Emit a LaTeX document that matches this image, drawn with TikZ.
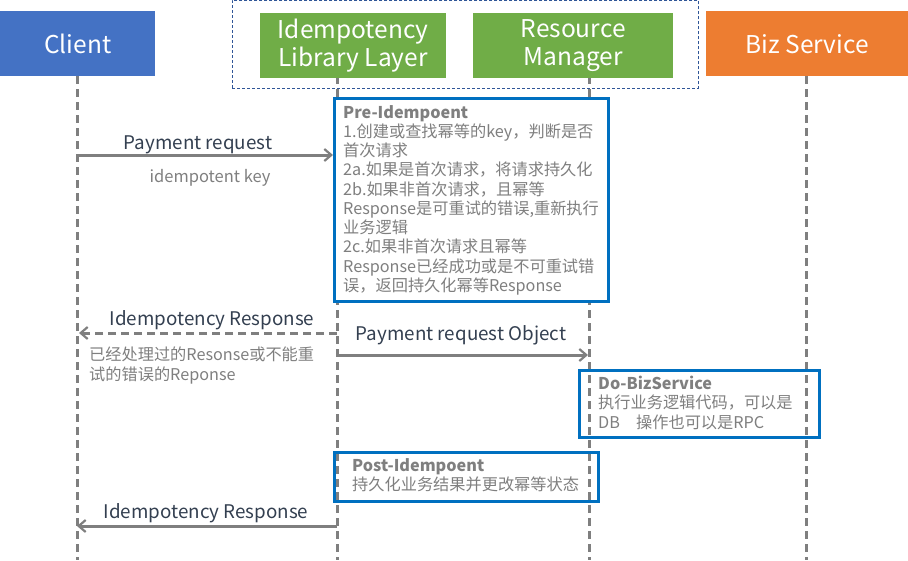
\documentclass[tikz,border=0pt]{standalone}
\usepackage{fontspec}
\setmainfont{Noto Sans CJK SC}
\usetikzlibrary{arrows.meta}
\definecolor{hblue}{HTML}{4472C4}
\definecolor{hgreen}{HTML}{70AD47}
\definecolor{horange}{HTML}{ED7D31}
\definecolor{bblue}{HTML}{0070C0}
\definecolor{lgray}{HTML}{7F7F7F}
\definecolor{dtext}{HTML}{333F50}
\definecolor{dbox}{HTML}{2F5597}
\begin{document}
\begin{tikzpicture}[x=1pt,y=-1pt,
  head/.style={fill=#1,draw=none,text=white,align=center,font=\fontsize{24.5}{28.5}\selectfont,inner sep=0},
  life/.style={draw=lgray,line width=3pt,dash pattern=on 8pt off 5pt},
  frame/.style={draw=bblue,line width=3pt},
  body/.style={text=lgray,align=left,anchor=north west,inner sep=0,font=\fontsize{16.2}{19.25}\selectfont},
  msg/.style={draw=lgray,line width=3pt,-{Straight Barb[length=7pt,width=12pt,line width=2.2pt]}},
  lbl/.style={text=dtext,inner sep=0,font=\fontsize{18.8}{22}\selectfont},
]
\useasboundingbox (0,0) rectangle (908,560);
% dashed group frame
\node[draw=dbox,line width=0.8pt,dash pattern=on 3pt off 2pt,minimum width=466pt,minimum height=88pt,inner sep=0,anchor=north west] (grp) at (232,0) {};
% lifelines
\coordinate (cT) at (77,76); \coordinate (cB) at (77,560);
\coordinate (iT) at (337,76); \coordinate (iB) at (337,560);
\coordinate (rT) at (589,76); \coordinate (rB) at (589,560);
\coordinate (bT) at (806,76); \coordinate (bB) at (806,560);
\draw[life] (cT) -- (cB);
\draw[life] (iT) -- (iB);
\draw[life] (rT) -- (rB);
\draw[life] (bT) -- (bB);
% headers
\node[head=hblue,minimum width=155pt,minimum height=65pt,anchor=north west] (client) at (0,11) {Client};
\node[head=hgreen,minimum width=186pt,minimum height=65pt,anchor=north west,yshift=-2pt] (idem) at (260,11) {Idempotency\\Library Layer};
\node[head=hgreen,minimum width=200pt,minimum height=65pt,anchor=north west,yshift=-2pt] (res) at (473,11) {Resource\\Manager};
\node[head=horange,minimum width=202pt,minimum height=65pt,anchor=north west] (biz) at (706,11) {Biz Service};
% Pre box
\node[frame,fill=white,minimum width=274pt,minimum height=203pt,inner sep=0,anchor=north west] (pre) at (333,97) {};
\node[body] (pretext) at (343,105) {\textbf{Pre-Idempoent}\\1.创建或查找幂等的key，判断是否\\首次请求\\2a.如果是首次请求，将请求持久化\\2b.如果非首次请求，且幂等\\Response是可重试的错误,重新执行\\业务逻辑\\2c.如果非首次请求且幂等\\Response已经成功或是不可重试错\\误，返回持久化幂等Response};
% message 1
\coordinate (m1s) at (77,155); \coordinate (m1e) at (333,155);
\draw[msg] (m1s) -- (m1e);
\node[lbl] (m1l) at (198,145) {Payment request};
\node[text=lgray,inner sep=0,font=\fontsize{16.5}{19}\selectfont] (m1k) at (210,178) {idempotent key};
% message 2 dashed response
\coordinate (m2s) at (337,333); \coordinate (m2e) at (79,333);
\draw[msg,dash pattern=on 8pt off 5pt] (m2s) -- (m2e);
\node[lbl] (m2l) at (212,320) {Idempotency Response};
\node[body] (m2t) at (89,347) {已经处理过的Resonse或不能重\\试的错误的Reponse};
% message 3
\coordinate (m3s) at (337,355); \coordinate (m3e) at (588,355);
\draw[msg] (m3s) -- (m3e);
\node[lbl] (m3l) at (461,335) {Payment request Object};
% Do box
\node[frame,minimum width=240pt,minimum height=67pt,inner sep=0,anchor=north west] (do) at (578,369) {};
\node[body] (dotext) at (598,376) {\textbf{Do-BizService}\\执行业务逻辑代码，可以是\\DB\quad 操作也可以是RPC};
% Post box
\node[frame,minimum width=264pt,minimum height=49pt,inner sep=0,anchor=north west] (post) at (333,451) {};
\node[body] (posttext) at (352,458) {\textbf{Post-Idempoent}\\持久化业务结果并更改幂等状态};
% message 4
\coordinate (m4s) at (337,526); \coordinate (m4e) at (77,526);
\draw[msg] (m4s) -- (m4e);
\node[lbl] (m4l) at (206,513) {Idempotency Response};
\end{tikzpicture}
\end{document}
